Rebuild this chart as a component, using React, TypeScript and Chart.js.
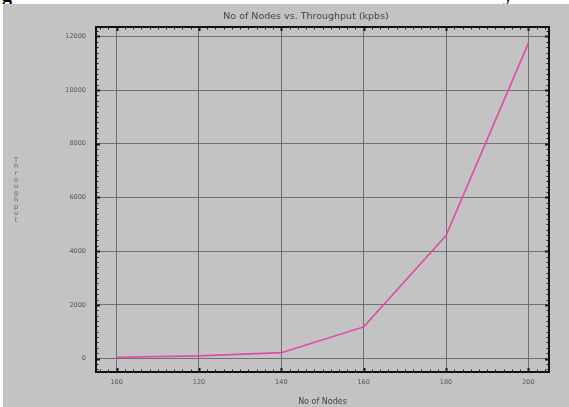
import React, { useEffect, useRef } from 'react';
import { Chart, registerables } from 'chart.js';

Chart.register(...registerables);

const nodes = [100, 120, 140, 160, 180, 200];
const throughput = [50, 100, 220, 1180, 4580, 11750];
const xTicks = [100, 120, 140, 160, 180, 200];
const yTicks = [0, 2000, 4000, 6000, 8000, 10000, 12000];
const chartTitle = 'No of Nodes vs. Throughput (kpbs)';
const xTitle = 'No of Nodes';
const yTitle = 'Throughput';

const GRAY = '#c3c3c3';

const framePlugin = {
  id: 'frame',
  afterDraw(chart: any) {
    const { ctx, chartArea, scales } = chart;
    const { left, top, right, bottom } = chartArea;
    const x = scales.x;
    const y = scales.y;
    ctx.save();
    // minor ticks
    ctx.strokeStyle = '#1a1a1a';
    ctx.lineWidth = 1;
    ctx.beginPath();
    for (let v = 96; v <= 204; v += 2) {
      const px = Math.round(x.getPixelForValue(v)) + 0.5;
      ctx.moveTo(px, bottom); ctx.lineTo(px, bottom - 2.5);
      ctx.moveTo(px, top); ctx.lineTo(px, top + 2.5);
    }
    for (let v = -400; v <= 12200; v += 200) {
      const py = Math.round(y.getPixelForValue(v)) + 0.5;
      ctx.moveTo(left, py); ctx.lineTo(left + 2.5, py);
      ctx.moveTo(right, py); ctx.lineTo(right - 2.5, py);
    }
    ctx.stroke();
    // major ticks
    ctx.lineWidth = 2;
    ctx.beginPath();
    xTicks.forEach((v) => {
      const px = Math.round(x.getPixelForValue(v)) + 0.5;
      ctx.moveTo(px, bottom); ctx.lineTo(px, bottom - 4);
      ctx.moveTo(px, top); ctx.lineTo(px, top + 4);
    });
    yTicks.forEach((v) => {
      const py = Math.round(y.getPixelForValue(v)) + 0.5;
      ctx.moveTo(left, py); ctx.lineTo(left + 4, py);
      ctx.moveTo(right, py); ctx.lineTo(right - 4, py);
    });
    ctx.stroke();
    // frame
    ctx.lineWidth = 2;
    ctx.strokeStyle = '#111';
    ctx.strokeRect(left, top, right - left, bottom - top);
    // title
    ctx.fillStyle = '#444';
    ctx.font = '9.5px "DejaVu Sans"';
    ctx.textAlign = 'center';
    ctx.textBaseline = 'middle';
    ctx.fillText(chartTitle, 306, 17);
    // stacked y title
    ctx.fillStyle = '#666';
    ctx.font = '6.5px "DejaVu Sans"';
    const letters = yTitle.split('');
    letters.forEach((ch, i) => {
      ctx.fillText(ch, 16, 160 + i * 6.7);
    });
    ctx.restore();
  },
};

export default function App() {
  const canvasRef = useRef<HTMLCanvasElement | null>(null);

  useEffect(() => {
    const canvas = canvasRef.current;
    if (!canvas) return;
    const chart = new Chart(canvas, {
      type: 'line',
      data: {
        datasets: [
          {
            data: nodes.map((n, i) => ({ x: n, y: throughput[i] })),
            borderColor: '#e04aa8',
            borderWidth: 1.6,
            pointRadius: 0,
            tension: 0,
            fill: false,
          },
        ],
      },
      options: {
        responsive: false,
        animation: false,
        devicePixelRatio: 1,
        layout: { padding: { left: 0, top: 27, right: 20, bottom: 0 } },
        plugins: {
          legend: { display: false },
          tooltip: { enabled: false },
          title: { display: false },
        },
        scales: {
          x: {
            type: 'linear',
            min: 95,
            max: 205,
            afterBuildTicks: (scale: any) => {
              scale.ticks = xTicks.map((v) => ({ value: v }));
            },
            afterFit: (scale: any) => {
              scale.height = 35;
            },
            grid: { color: '#707070', lineWidth: 1, drawTicks: false },
            border: { display: false },
            ticks: {
              padding: 6,
              color: '#555',
              font: { family: 'DejaVu Sans', size: 6.5 },
              maxRotation: 0,
              callback: (v: any) => String(v),
            },
            title: {
              display: true,
              text: xTitle,
              color: '#444',
              font: { family: 'DejaVu Sans', size: 8 },
              padding: { top: 0, bottom: 0 },
            },
          },
          y: {
            type: 'linear',
            min: -500,
            max: 12350,
            afterBuildTicks: (scale: any) => {
              scale.ticks = yTicks.map((v) => ({ value: v }));
            },
            afterFit: (scale: any) => {
              scale.width = 96;
            },
            grid: { color: '#707070', lineWidth: 1, drawTicks: false },
            border: { display: false },
            ticks: {
              padding: 10,
              color: '#555',
              font: { family: 'DejaVu Sans', size: 6.5 },
              callback: (v: any) => String(v),
            },
          },
        },
      },
      plugins: [framePlugin],
    });
    return () => chart.destroy();
  }, []);

  return (
    <div style={{ position: 'fixed', left: 0, top: 0, width: 569, height: 407, background: '#fff', overflow: 'hidden' }}>
      <div style={{ position: 'absolute', left: 0, top: 0, width: 569, height: 4, overflow: 'hidden' }}>
        <span style={{ position: 'absolute', left: 2, top: -17, font: 'bold 20px "Liberation Serif"', color: '#000' }}>g</span>
        <span style={{ position: 'absolute', left: 503, top: -17, font: 'bold 20px "Liberation Serif"', color: '#000' }}>y</span>
      </div>
      <div style={{ position: 'absolute', left: 3, top: 4, right: 0, bottom: 0, background: GRAY }} />
      <canvas ref={canvasRef} width={569} height={407} style={{ position: 'absolute', left: 0, top: 0 }} />
    </div>
  );
}
